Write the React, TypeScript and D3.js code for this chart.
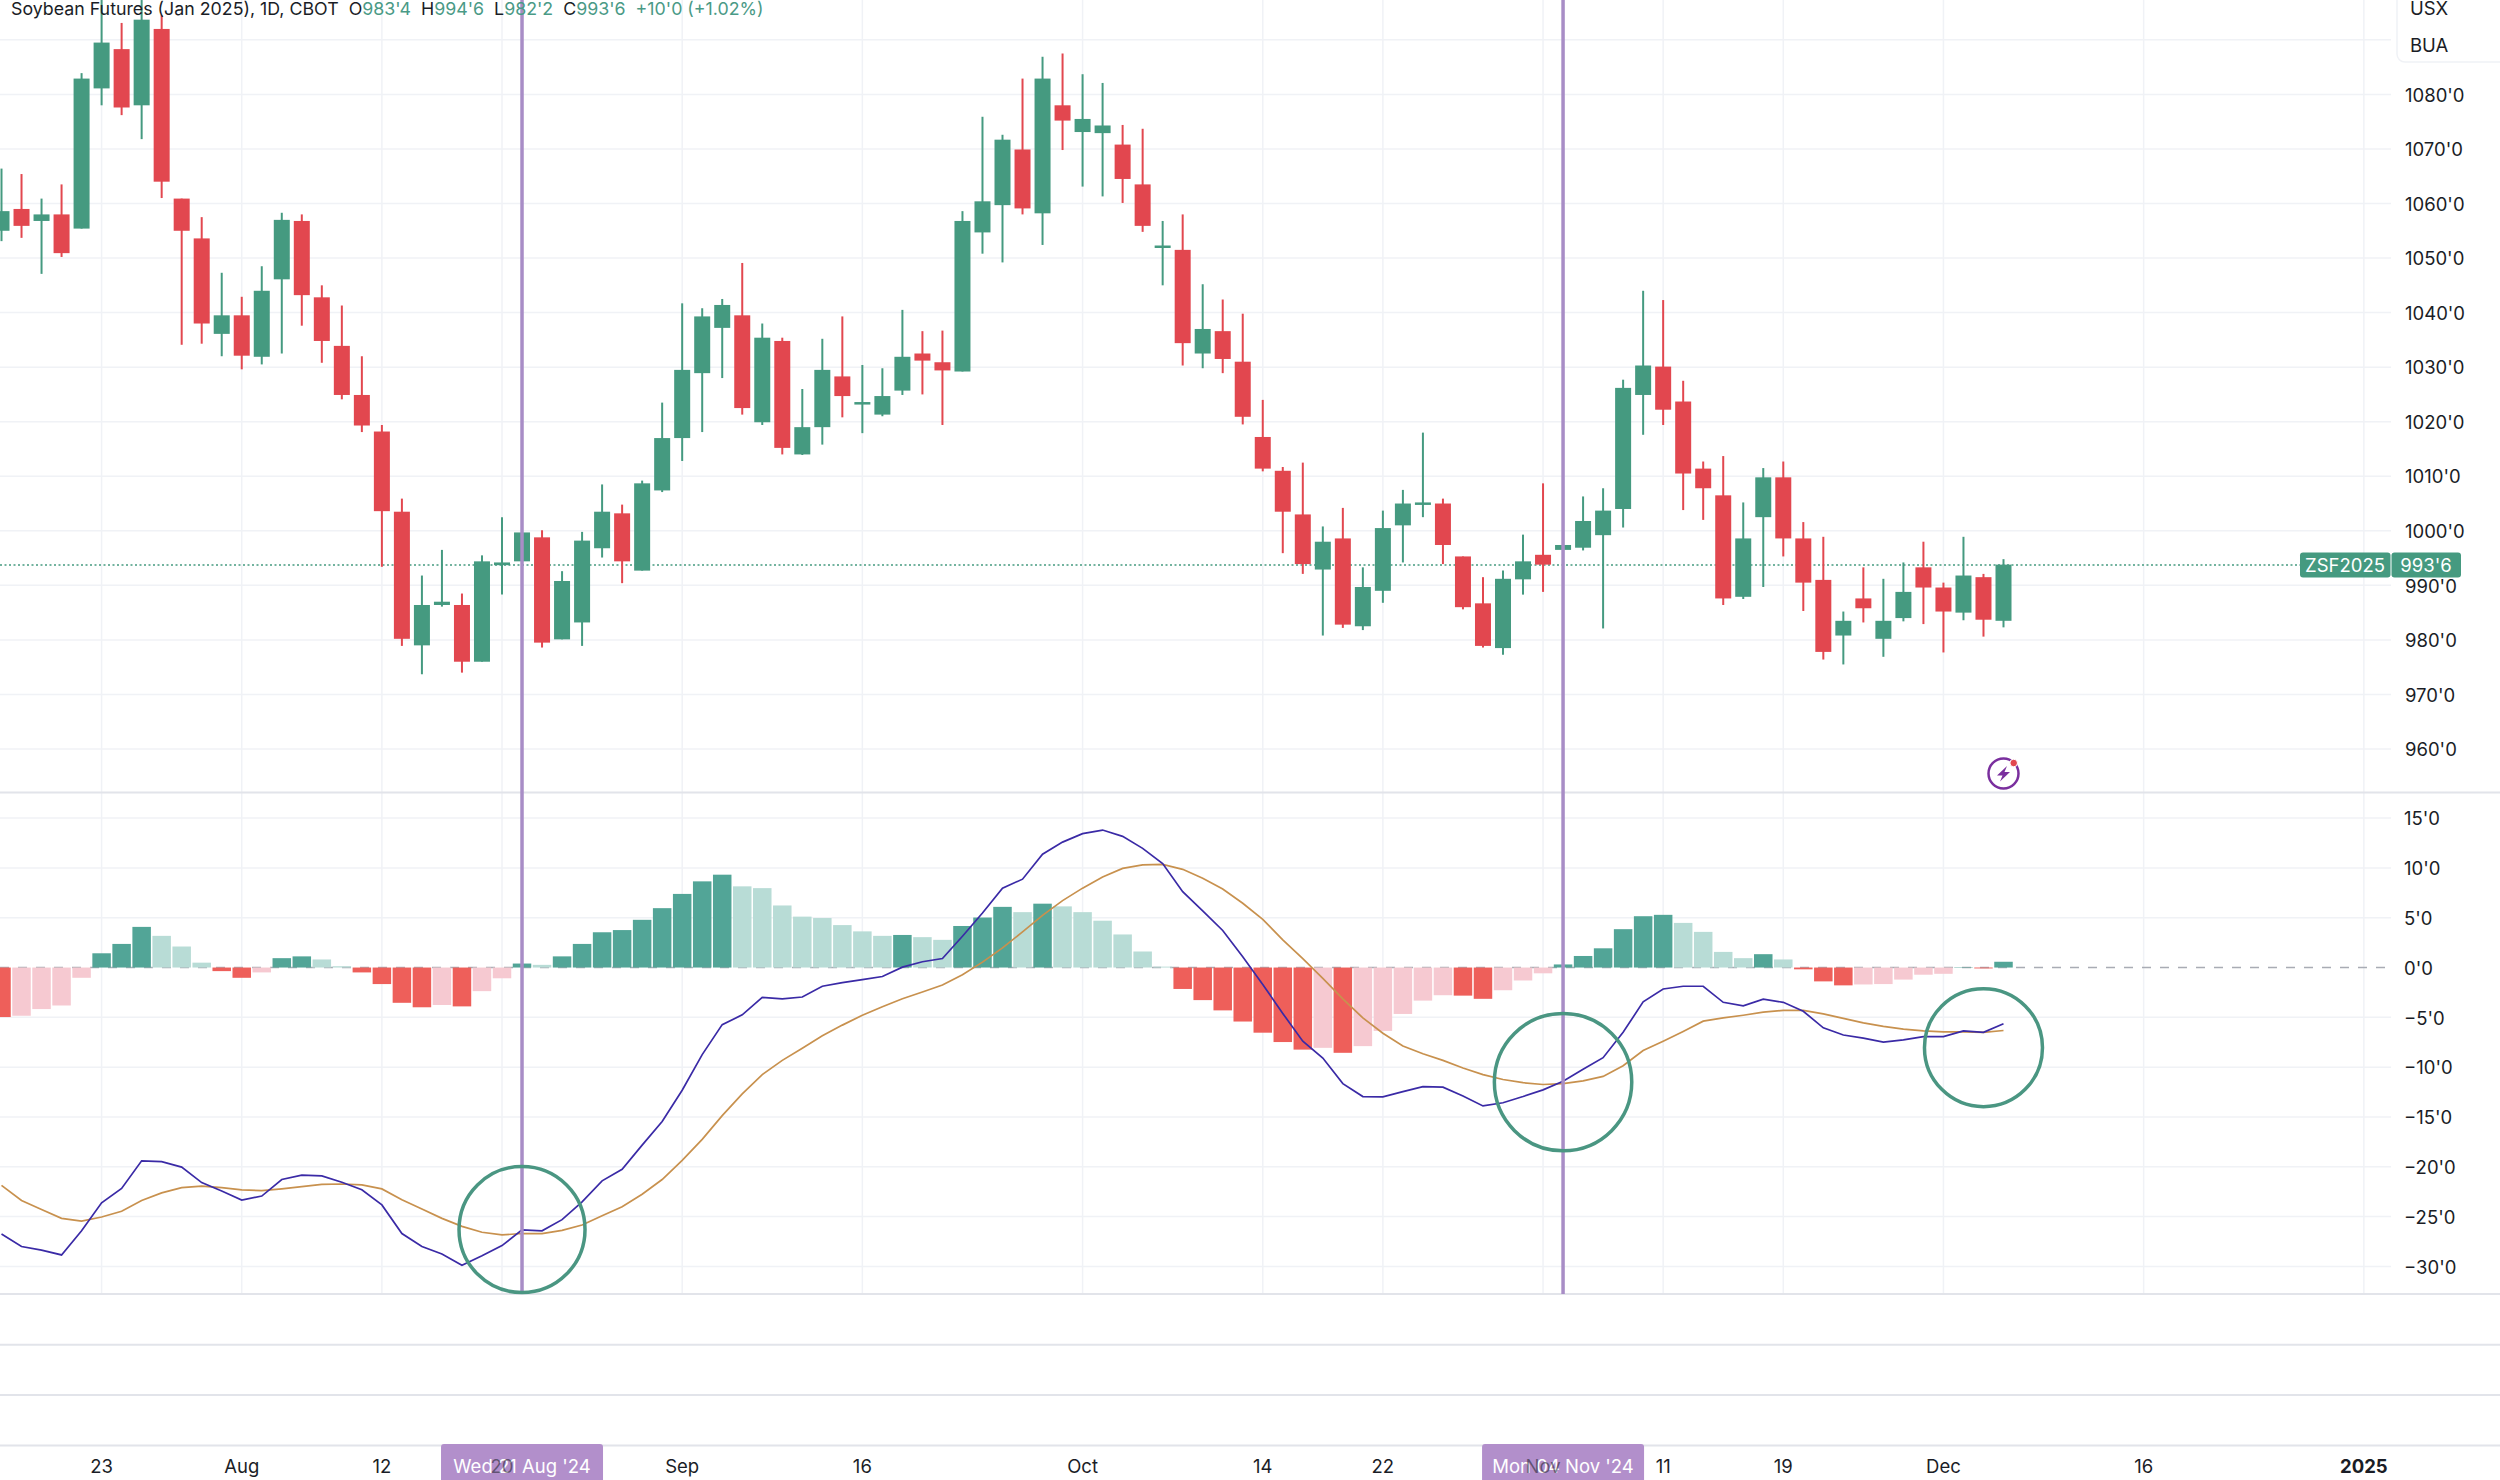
import React from 'react';
import * as d3 from 'd3';

// daily bars, bar 26 = Wed 21 Aug '24, bar 78 = Mon 04 Nov '24
const opens = [1055.0,1059.0,1056.8,1058.0,1055.4,1081.1,1088.3,1078.0,1092.0,1060.9,1053.6,1036.1,1039.5,1031.9,1046.1,1056.8,1042.8,1033.9,1024.9,1018.2,1003.5,979.0,986.4,986.4,976.0,993.7,994.4,998.8,980.1,983.2,996.8,1003.2,992.7,1007.4,1017.0,1028.9,1037.2,1039.5,1019.9,1034.8,1014.0,1019.0,1028.3,1023.5,1021.3,1025.7,1032.5,1030.9,1029.2,1054.7,1059.7,1069.9,1058.2,1078.0,1073.1,1072.9,1070.8,1063.5,1052.0,1051.5,1032.5,1036.6,1031.0,1017.2,1011.0,1003.0,992.9,998.6,982.5,989.0,1001.0,1005.0,1005.0,995.3,986.7,978.5,991.1,995.6,996.5,996.9,999.2,1004.0,1024.9,1030.1,1023.7,1011.4,1006.5,987.9,1002.5,1009.8,998.6,991.0,980.8,987.6,980.2,984.0,993.3,989.6,985.0,991.5,983.5];
const highs = [1066.4,1065.4,1060.9,1063.5,1083.9,1099.0,1093.1,1097.3,1094.5,1060.9,1057.5,1047.3,1042.9,1048.5,1058.3,1058.0,1045.0,1041.3,1032.0,1019.4,1005.9,991.8,996.5,988.5,995.5,1002.5,1002.8,1000.1,992.6,999.8,1008.5,1004.8,1009.2,1023.5,1041.7,1040.8,1042.5,1049.1,1038.0,1035.4,1026.0,1035.2,1039.3,1030.4,1029.8,1040.5,1036.6,1036.7,1058.6,1075.9,1072.6,1082.9,1086.9,1087.5,1083.7,1082.1,1074.4,1073.7,1056.8,1058.0,1045.2,1042.4,1039.8,1024.0,1011.7,1012.5,1000.8,1004.2,993.3,1003.7,1007.5,1018.0,1005.9,995.3,991.5,992.7,999.3,1008.7,1008.2,1006.3,1007.8,1027.7,1044.0,1042.3,1027.5,1012.7,1013.7,1005.2,1011.5,1012.7,1001.6,998.9,985.2,993.3,991.2,994.2,998.0,990.5,998.9,992.1,994.8];
const lows = [1053.1,1053.7,1047.1,1050.2,1055.4,1078.0,1076.2,1071.8,1061.0,1034.1,1034.3,1032.0,1029.6,1030.5,1032.5,1037.6,1030.8,1024.1,1018.1,993.4,978.9,973.7,986.1,974.0,976.0,988.3,992.2,978.6,980.1,978.9,995.1,990.4,992.7,1007.1,1012.8,1018.1,1028.0,1021.3,1019.4,1014.0,1013.9,1015.8,1020.8,1017.9,1021.0,1024.9,1025.0,1019.4,1029.2,1050.8,1049.2,1058.0,1052.4,1069.8,1063.1,1061.3,1060.1,1054.8,1045.0,1030.3,1029.8,1028.9,1019.5,1010.9,995.9,992.1,980.8,982.2,981.8,986.8,994.2,1002.5,993.9,985.6,978.6,977.3,988.3,988.8,993.8,996.4,982.1,1000.6,1017.6,1019.4,1003.8,1002.0,986.4,987.5,989.7,995.3,985.3,976.4,975.5,983.2,976.9,983.4,982.9,977.7,983.6,980.6,982.3];
const closes = [1058.6,1055.9,1058.0,1050.9,1082.9,1089.5,1077.6,1093.7,1064.0,1055.0,1038.0,1039.5,1032.1,1044.0,1057.0,1043.2,1034.8,1024.9,1019.3,1003.6,980.2,986.4,987.0,976.0,994.4,994.2,999.7,979.5,990.8,998.2,1003.5,994.4,1008.7,1017.0,1029.5,1039.3,1041.4,1022.5,1035.4,1015.2,1019.0,1029.5,1024.7,1023.6,1024.7,1031.9,1031.2,1029.4,1056.8,1060.4,1071.7,1059.1,1082.9,1075.2,1075.5,1074.3,1064.5,1055.9,1052.3,1034.4,1037.0,1031.5,1020.9,1011.4,1003.5,993.9,998.0,982.8,989.7,1000.5,1005.0,1005.2,997.4,986.0,978.9,991.2,994.4,993.8,997.4,1001.8,1003.7,1026.2,1030.3,1022.2,1010.5,1007.8,987.6,998.6,1009.8,998.6,990.5,977.8,983.5,985.8,983.5,988.8,989.6,985.2,991.8,983.7,993.8];

const histogram = [-4.97,-4.84,-4.17,-3.81,-1.03,1.43,2.37,4.08,3.18,2.11,0.49,-0.36,-1.03,-0.49,0.94,1.12,0.81,0.13,-0.49,-1.66,-3.54,-3.99,-3.76,-3.90,-2.37,-1.08,0.40,0.27,1.12,2.37,3.54,3.76,4.79,5.96,7.39,8.65,9.32,8.15,7.97,6.23,5.11,4.97,4.26,3.63,3.18,3.27,3.05,2.78,4.17,5.02,6.09,5.56,6.41,6.14,5.56,4.70,3.32,1.61,0.09,-2.15,-3.27,-4.30,-5.42,-6.54,-7.48,-8.24,-8.06,-8.56,-7.89,-6.36,-4.66,-3.32,-2.78,-2.82,-3.14,-2.28,-1.30,-0.58,0.31,1.16,1.93,3.85,5.15,5.29,4.48,3.58,1.57,0.94,1.34,0.81,-0.18,-1.39,-1.79,-1.70,-1.66,-1.21,-0.72,-0.63,0.04,-0.09,0.58];
const macd = [-26.75,-28.0,-28.36,-28.85,-26.43,-23.61,-22.18,-19.40,-19.49,-20.03,-21.59,-22.44,-23.34,-22.94,-21.28,-20.83,-20.92,-21.55,-22.31,-23.83,-26.70,-28.0,-28.76,-29.88,-28.94,-27.91,-26.34,-26.43,-25.31,-23.52,-21.41,-20.25,-17.83,-15.46,-12.32,-8.74,-5.73,-4.75,-3.00,-3.14,-2.96,-1.88,-1.52,-1.21,-0.90,0.04,0.58,0.90,3.14,5.47,7.97,8.87,11.38,12.59,13.44,13.80,13.17,11.96,10.44,7.62,5.69,3.72,1.08,-1.70,-4.61,-7.39,-9.09,-11.65,-12.95,-12.99,-12.45,-11.96,-12.01,-12.90,-13.89,-13.57,-12.95,-12.28,-11.42,-10.21,-9.05,-6.50,-3.45,-2.15,-1.88,-1.88,-3.49,-3.85,-3.18,-3.49,-4.39,-6.05,-6.77,-7.08,-7.48,-7.26,-6.94,-6.94,-6.36,-6.50,-5.64];
const signal = [-21.86,-23.39,-24.28,-25.18,-25.45,-25.04,-24.46,-23.39,-22.62,-22.09,-21.95,-22.09,-22.31,-22.40,-22.22,-22.0,-21.77,-21.73,-21.82,-22.22,-23.30,-24.24,-25.18,-25.98,-26.57,-26.84,-26.70,-26.70,-26.39,-25.85,-24.91,-24.01,-22.76,-21.28,-19.35,-17.25,-14.87,-12.68,-10.75,-9.32,-8.11,-6.85,-5.78,-4.79,-3.94,-3.14,-2.46,-1.75,-0.72,0.54,1.97,3.58,5.24,6.72,7.97,9.09,9.95,10.30,10.35,9.86,8.96,7.88,6.45,4.84,2.78,0.90,-1.08,-3.14,-5.06,-6.59,-7.88,-8.65,-9.32,-10.08,-10.75,-11.24,-11.56,-11.74,-11.65,-11.38,-10.93,-9.86,-8.33,-7.39,-6.41,-5.38,-5.06,-4.79,-4.48,-4.30,-4.30,-4.66,-5.11,-5.56,-5.91,-6.18,-6.36,-6.45,-6.45,-6.50,-6.32];

const priceTicks = [1080,1070,1060,1050,1040,1030,1020,1010,1000,990,980,970,960];
const priceGridExtra = [1090];
const macdTicks = [15,10,5,0,-5,-10,-15,-20,-25,-30];
const timeTicks = [
  { bar: 5, label: '23' }, { bar: 12, label: 'Aug' }, { bar: 19, label: '12' }, { bar: 25, label: '20' },
  { bar: 34, label: 'Sep' }, { bar: 43, label: '16' }, { bar: 54, label: 'Oct' }, { bar: 63, label: '14' },
  { bar: 69, label: '22' }, { bar: 77, label: 'Nov' }, { bar: 83, label: '11' }, { bar: 89, label: '19' },
  { bar: 97, label: 'Dec' }, { bar: 107, label: '16' }, { bar: 118, label: '2025' },
];
const crosshairs = [
  { bar: 26, label: "Wed 21 Aug '24" },
  { bar: 78, label: "Mon 04 Nov '24" },
];
const crossings = [
  { bar: 26, value: -26.3, r: 63 },
  { bar: 78, value: -11.5, r: 68.7 },
  { bar: 99, value: -8.04, r: 59 },
];
const lastPrice = 993.75;
const legendParts = [
  { text: 'Soybean Futures (Jan 2025), 1D, CBOT  O', quote: false },
  { text: "983'4", quote: true }, { text: '  H', quote: false },
  { text: "994'6", quote: true }, { text: '  L', quote: false },
  { text: "982'2", quote: true }, { text: '  C', quote: false },
  { text: "993'6  +10'0 (+1.02%)", quote: true },
];

const GREEN = '#459a80';
const RED = '#e2474f';
const GRID = '#f0f2f6';
const DIVIDER = '#e2e4ea';
const PURPLE = '#a88dc6';
const FONT = 'Inter, "Noto Sans", sans-serif';

const x = d3.scaleLinear().domain([0, 100]).range([1.5, 2003.5]);
const yPrice = d3.scaleLinear().domain([1080, 960]).range([94.4, 749]);
const yMacd = d3.scaleLinear().domain([15, -30]).range([818.1, 1266.4]);

const macdPath = d3.line<number>().x((_, i) => x(i)).y(d => yMacd(d));

const formatTick = (v: number) => `${v < 0 ? '\u2212' : ''}${Math.abs(v)}'0`;

function histColor(i: number) {
  const v = histogram[i];
  const prev = i > 0 ? histogram[i - 1] : v;
  if (v >= 0) return v > prev || i === 0 ? '#52a597' : '#b8dcd6';
  return v <= prev ? '#ee5f5a' : '#f6c9d1';
}

export default function App() {
  const axisRight = 2391;
  const priceTagY = yPrice(lastPrice);
  return (
    <div>
      <style>{'body{margin:0}'}</style>
      <svg width={2500} height={1480} style={{ display: 'block', background: '#fff' }} fontFamily={FONT}>
        {/* grid */}
        {timeTicks.map(t => (
          <line key={t.bar} x1={x(t.bar)} x2={x(t.bar)} y1={0} y2={1294} stroke={GRID} strokeWidth={1.5} />
        ))}
        {[...priceGridExtra, ...priceTicks].map(v => (
          <line key={v} x1={0} x2={axisRight} y1={yPrice(v)} y2={yPrice(v)} stroke={GRID} strokeWidth={1.5} />
        ))}
        {macdTicks.filter(v => v !== 0).map(v => (
          <line key={v} x1={0} x2={axisRight} y1={yMacd(v)} y2={yMacd(v)} stroke={GRID} strokeWidth={1.5} />
        ))}

        {/* pane dividers */}
        {[792.5, 1294, 1344.7, 1395, 1445.6].map(y => (
          <line key={y} x1={0} x2={2500} y1={y} y2={y} stroke={DIVIDER} strokeWidth={2} />
        ))}

        {/* last price line */}
        <line x1={0} x2={2300} y1={priceTagY} y2={priceTagY} stroke={GREEN} strokeWidth={1.5} strokeDasharray="2 2.5" />

        {/* candles */}
        {closes.map((c, i) => {
          const color = c >= opens[i] ? GREEN : RED;
          const top = yPrice(Math.max(opens[i], c));
          const bottom = yPrice(Math.min(opens[i], c));
          return (
            <g key={i}>
              <line x1={x(i)} x2={x(i)} y1={yPrice(highs[i])} y2={yPrice(lows[i])} stroke={color} strokeWidth={2} />
              <rect x={x(i) - 8} width={16} y={top} height={Math.max(bottom - top, 2.5)} fill={color} />
            </g>
          );
        })}

        {/* MACD pane */}
        <line x1={0} x2={axisRight} y1={yMacd(0)} y2={yMacd(0)} stroke="#a9acb4" strokeWidth={1.5} strokeDasharray="9 9" />
        {histogram.map((v, i) => (
          <rect
            key={i}
            x={x(i) - 9.25}
            width={18.5}
            y={Math.min(yMacd(v), yMacd(0))}
            height={Math.abs(yMacd(v) - yMacd(0))}
            fill={histColor(i)}
          />
        ))}
        <path d={macdPath(signal) ?? ''} fill="none" stroke="#c8914e" strokeWidth={1.7} />
        <path d={macdPath(macd) ?? ''} fill="none" stroke="#3a2aa6" strokeWidth={1.7} />

        {/* crosshair lines */}
        {crosshairs.map(c => (
          <line key={c.bar} x1={x(c.bar)} x2={x(c.bar)} y1={0} y2={1294} stroke={PURPLE} strokeWidth={3.5} />
        ))}

        {/* hand drawn circles */}
        {crossings.map(c => (
          <circle key={c.bar} cx={x(c.bar)} cy={yMacd(c.value)} r={c.r} fill="none" stroke="#4a9682" strokeWidth={3.5} />
        ))}

        {/* legend */}
        <text x={11} y={15} fontSize={17.8} xmlSpace="preserve" style={{ whiteSpace: 'pre' }}>
          {legendParts.map((p, i) => (
            <tspan key={i} fill={p.quote ? '#4a9a86' : '#1a1d26'}>{p.text}</tspan>
          ))}
        </text>

        {/* top right box */}
        <rect x={2397} y={-10} width={120} height={72} rx={8} fill="#fff" stroke="#f0f2f6" strokeWidth={1.5} />
        <text x={2410} y={14.5} fontSize={18.5} fill="#1a1d26">USX</text>
        <text x={2410} y={51.5} fontSize={18.5} fill="#1a1d26">BUA</text>

        {/* axis labels */}
        {priceTicks.map(v => (
          <text key={v} x={2405} y={yPrice(v) + 0.5} dy="0.36em" fontSize={18.5} fill="#1a1d26">{`${v}'0`}</text>
        ))}
        {macdTicks.map(v => (
          <text key={v} x={2404} y={yMacd(v) + 0.5} dy="0.36em" fontSize={18.5} fill="#1a1d26">{formatTick(v)}</text>
        ))}

        {/* price tag */}
        <rect x={2300} y={priceTagY - 12.5} width={90.5} height={25} rx={3} fill={GREEN} />
        <rect x={2391.5} y={priceTagY - 12.5} width={69.5} height={25} rx={3} fill={GREEN} />
        <text x={2345} y={priceTagY} dy="0.36em" textAnchor="middle" fontSize={18.5} fill="#fff">ZSF2025</text>
        <text x={2426} y={priceTagY} dy="0.36em" textAnchor="middle" fontSize={18.5} fill="#fff">993'6</text>

        {/* lightning icon */}
        <g transform={`translate(${x(100)},773.5)`}>
          <circle r={15} fill="#fff" stroke="#7a2f9e" strokeWidth={2.5} />
          <path d="M3.5 -7.5 L-6.5 2 L-1 2 L-3.5 8 L6.5 -1.5 L1 -1.5 Z" fill="#7a2f9e" />
          <circle cx={10.2} cy={-10.5} r={3.8} fill="#e2474f" stroke="#fff" strokeWidth={1} />
        </g>

        {/* time axis */}
        {crosshairs.map(c => (
          <g key={c.bar}>
            <path
              d={`M${x(c.bar) - 81},1480 V1447 a3,3 0 0 1 3,-3 H${x(c.bar) + 78} a3,3 0 0 1 3,3 V1480 Z`}
              fill="#b28fcb"
            />
            <text x={x(c.bar)} y={1466.5} dy="0.36em" textAnchor="middle" fontSize={18.5} fill="#fff">{c.label}</text>
          </g>
        ))}
        {timeTicks.map(t => (
          <text
            key={t.bar}
            x={x(t.bar)}
            y={1466.5}
            dy="0.36em"
            textAnchor="middle"
            fontSize={18.5}
            fontWeight={t.label === '2025' ? 700 : 400}
            fill="#1a1d26"
            fillOpacity={t.bar === 25 || t.bar === 77 ? 0.55 : 1}
          >
            {t.label}
          </text>
        ))}
      </svg>
    </div>
  );
}
